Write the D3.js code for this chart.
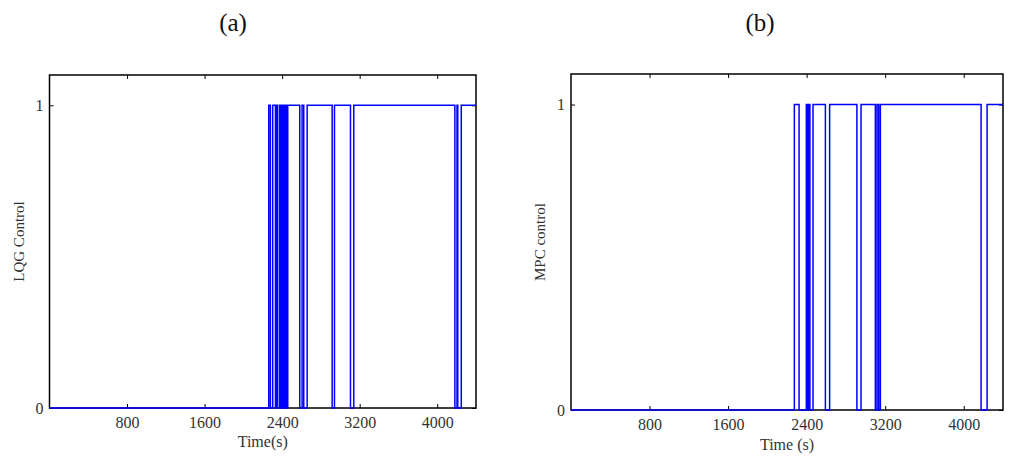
<!DOCTYPE html>
<html>
<head>
<meta charset="utf-8">
<script src="https://cdn.jsdelivr.net/npm/d3@7"></script>
<style>
  html, body { margin: 0; padding: 0; background: #fff; }
  svg { display: block; }
  text { font-family: "Liberation Serif", "Times New Roman", serif; }
</style>
</head>
<body>
<svg id="chart" width="1012" height="463"></svg>
<script>
// ---- data ----
const xTicks = [800, 1600, 2400, 3200, 4000];
const yTicks = [0, 1];
const xDomain = [0, 4400];
const yDomain = [0, 1.1];

const lqgTimes  = [0, 2262, 2279, 2303, 2331, 2341, 2352, 2373, 2383, 2393, 2404, 2414, 2424, 2434, 2445, 2458, 2582, 2606, 2623, 2658, 2916, 2940, 3105, 3139, 4182, 4204, 4212, 4248, 4400];
const lqgValues = [0, 1, 0, 1, 0, 1, 0, 1, 0, 1, 0, 1, 0, 1, 0, 1, 0, 1, 0, 1, 0, 1, 0, 1, 0, 1, 0, 1, 1];

const mpcTimes  = [0, 2275, 2323, 2397, 2410, 2420, 2433, 2465, 2591, 2634, 2912, 2954, 3100, 3117, 3134, 3151, 4177, 4238, 4400];
const mpcValues = [0, 1, 0, 1, 0, 1, 0, 1, 0, 1, 0, 1, 0, 1, 0, 1, 0, 1, 1];

const panels = [
  { title: "(a)", ylabel: "LQG Control", xlabel: "Time(s)", times: lqgTimes, values: lqgValues,
    left: 49.5, right: 476, top: 75, bottom: 408, titleX: 233, ylabelX: 24, xlabelY: 447 },
  { title: "(b)", ylabel: "MPC control", xlabel: "Time (s)", times: mpcTimes, values: mpcValues,
    left: 571, right: 1003, top: 74, bottom: 410, titleX: 760, ylabelX: 545, xlabelY: 450 }
];

const svg = d3.select("#chart");

panels.forEach(p => {
  const x = d3.scaleLinear().domain(xDomain).range([p.left, p.right]);
  const y = d3.scaleLinear().domain(yDomain).range([p.bottom, p.top]);
  const g = svg.append("g");

  // title
  g.append("text").attr("x", p.titleX).attr("y", 31)
    .attr("text-anchor", "middle").attr("font-size", 25).attr("fill", "#111")
    .text(p.title);

  const pts = p.times.map((t, i) => [t, p.values[i]]);
  const line = d3.line().x(d => x(d[0])).y(d => y(d[1])).curve(d3.curveStepAfter);

  // axes
  const styleAxis = sel => {
    sel.select(".domain").remove();
    sel.selectAll(".tick line").attr("stroke", "#000").attr("stroke-width", 1);
    sel.selectAll(".tick text").attr("font-family", "Liberation Serif, serif")
      .attr("font-size", 16).attr("fill", "#333");
  };

  g.append("g").attr("transform", `translate(0,${p.bottom})`)
    .call(d3.axisBottom(x).tickValues(xTicks).tickSizeInner(-4).tickSizeOuter(0).tickPadding(9).tickFormat(d3.format("d")))
    .call(styleAxis);
  g.append("g").attr("transform", `translate(0,${p.top})`)
    .call(d3.axisTop(x).tickValues(xTicks).tickSizeInner(-4).tickSizeOuter(0).tickFormat(""))
    .call(styleAxis);
  g.append("g").attr("transform", `translate(${p.left},0)`)
    .call(d3.axisLeft(y).tickValues(yTicks).tickSizeInner(-4).tickSizeOuter(0).tickPadding(6).tickFormat(d3.format("d")))
    .call(styleAxis);
  g.append("g").attr("transform", `translate(${p.right},0)`)
    .call(d3.axisRight(y).tickValues(yTicks).tickSizeInner(-4).tickSizeOuter(0).tickFormat(""))
    .call(styleAxis);

  // frame
  g.append("rect").attr("x", p.left).attr("y", p.top)
    .attr("width", p.right - p.left).attr("height", p.bottom - p.top)
    .attr("fill", "none").attr("stroke", "#000").attr("stroke-width", 1.5);

  // signal (drawn over the frame so the zero level shows blue)
  g.append("path").datum(pts).attr("d", line)
    .attr("fill", "none").attr("stroke", "#0000ff").attr("stroke-width", 1.5);

  // labels
  g.append("text").attr("x", (p.left + p.right) / 2).attr("y", p.xlabelY)
    .attr("text-anchor", "middle").attr("font-size", 16).attr("fill", "#333")
    .text(p.xlabel);
  g.append("text")
    .attr("transform", `translate(${p.ylabelX},${(p.top + p.bottom) / 2}) rotate(-90)`)
    .attr("text-anchor", "middle").attr("font-size", 15).attr("fill", "#333")
    .text(p.ylabel);
});
</script>
</body>
</html>
